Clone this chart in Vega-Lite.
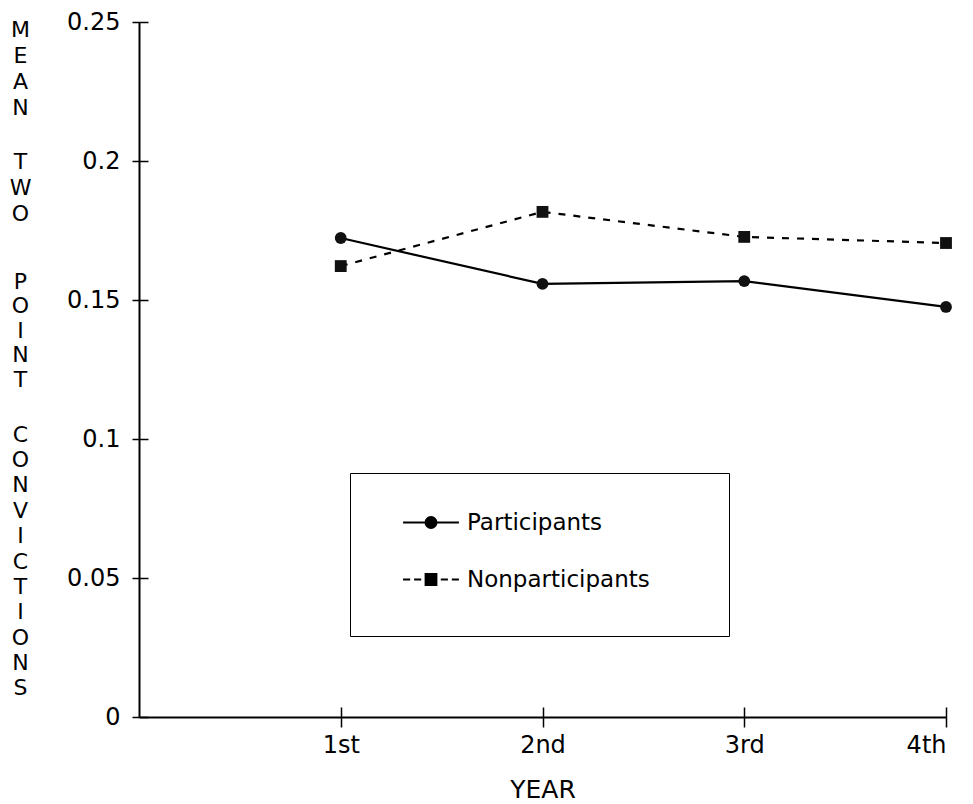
{
  "$schema": "https://vega.github.io/schema/vega-lite/v6.json",
  "width": 807,
  "height": 695,
  "autosize": "none",
  "padding": {"left": 139, "top": 22, "right": 27, "bottom": 87},
  "background": "white",
  "config": {
    "view": {"stroke": null},
    "font": "DejaVu Sans",
    "axis": {"grid": false, "domainColor": "black", "tickColor": "black", "labelColor": "black", "titleColor": "black", "labelFont": "DejaVu Sans", "titleFont": "DejaVu Sans", "titleFontWeight": "normal"}
  },
  "data": {
    "values": [
      {"series": "Participants", "year": 1, "value": 0.1723},
      {"series": "Participants", "year": 2, "value": 0.1558},
      {"series": "Participants", "year": 3, "value": 0.1568},
      {"series": "Participants", "year": 4, "value": 0.1475},
      {"series": "Nonparticipants", "year": 1, "value": 0.1622},
      {"series": "Nonparticipants", "year": 2, "value": 0.1817},
      {"series": "Nonparticipants", "year": 3, "value": 0.1727},
      {"series": "Nonparticipants", "year": 4, "value": 0.1705}
    ]
  },
  "resolve": {"scale": {"x": "independent", "y": "independent", "shape": "independent"}, "axis": {"x": "independent", "y": "independent"}},
  "layer": [
    {
      "transform": [{"filter": "datum.series === 'Participants'"}],
      "mark": {"type": "line", "color": "black", "strokeWidth": 2.2},
      "encoding": {
        "x": {
          "field": "year", "type": "quantitative",
          "scale": {"domain": [0, 4], "nice": false, "zero": false},
          "axis": {
            "orient": "bottom", "values": [1, 2, 3, 4],
            "labelExpr": "datum.value == 1 ? '1st' : datum.value == 2 ? '2nd' : datum.value == 3 ? '3rd' : '4th'",
            "labelFontSize": 24, "labelPadding": 6, "tickSize": 10, "tickWidth": 1.5, "domainWidth": 2,
            "title": "YEAR", "titleFontSize": 25, "titleBaseline": "top", "titleY": 60
          }
        },
        "y": {
          "field": "value", "type": "quantitative",
          "scale": {"domain": [0, 0.25], "nice": false},
          "axis": {
            "orient": "left", "values": [0, 0.05, 0.1, 0.15, 0.2, 0.25], "format": "~g",
            "labelFontSize": 24, "labelPadding": 12, "tickSize": 7, "tickWidth": 1.5, "domainWidth": 2,
            "title": ["M","E","A","N"],
            "titleAngle": 0, "titleFontSize": 22, "titleLineHeight": 26.2, "titleAlign": "center", "titleBaseline": "top",
            "titleX": -119, "titleY": -3
          }
        }
      }
    },
    {
      "transform": [{"filter": "datum.series === 'Nonparticipants'"}],
      "mark": {"type": "line", "color": "black", "strokeWidth": 2.2, "strokeDash": [7, 8]},
      "encoding": {
        "x": {"field": "year", "type": "quantitative", "scale": {"domain": [0, 4], "nice": false, "zero": false}, "axis": null},
        "y": {
          "field": "value", "type": "quantitative", "scale": {"domain": [0, 0.25], "nice": false},
          "axis": {
            "orient": "left", "ticks": false, "labels": false, "domain": false,
            "title": ["P","O","I","N","T"],
            "titleAngle": 0, "titleFontSize": 22, "titleLineHeight": 24.5, "titleAlign": "center", "titleBaseline": "top",
            "titleX": -119, "titleY": 249
          }
        }
      }
    },
    {
      "mark": {"type": "point", "filled": true, "color": "#111", "opacity": 1, "size": 140},
      "encoding": {
        "x": {
          "field": "year", "type": "quantitative",
          "scale": {"domain": [0, 4], "nice": false, "zero": false},
          "axis": {"orient": "top", "offset": -695, "values": [1, 2, 3, 4], "labels": false, "domain": false, "title": null, "tickSize": 10, "tickWidth": 1.5}
        },
        "y": {
          "field": "value", "type": "quantitative",
          "scale": {"domain": [0, 0.25], "nice": false},
          "axis": {
            "orient": "right", "offset": -807, "values": [0, 0.05, 0.1, 0.15, 0.2, 0.25], "labels": false, "domain": false, "tickSize": 9, "tickWidth": 1.5,
            "title": ["T","W","O"],
            "titleAngle": 0, "titleFontSize": 22, "titleLineHeight": 26.2, "titleAlign": "center", "titleBaseline": "top",
            "titleX": -119, "titleY": 129
          }
        },
        "shape": {
          "field": "series", "type": "nominal",
          "scale": {"domain": ["Participants", "Nonparticipants"], "range": ["circle", "square"]},
          "legend": null
        }
      }
    },
    {
      "mark": {"type": "point", "filled": true, "fill": "black", "stroke": "black", "strokeWidth": 2, "opacity": 0},
      "encoding": {
        "x": {"field": "year", "type": "quantitative", "scale": {"domain": [0, 4], "nice": false, "zero": false}, "axis": null},
        "y": {
          "field": "value", "type": "quantitative", "scale": {"domain": [0, 0.25], "nice": false},
          "axis": {
            "orient": "left", "ticks": false, "labels": false, "domain": false,
            "title": ["C","O","N","V","I","C","T","I","O","N","S"],
            "titleAngle": 0, "titleFontSize": 22, "titleLineHeight": 25.4, "titleAlign": "center", "titleBaseline": "top",
            "titleX": -119, "titleY": 402
          }
        },
        "shape": {
          "field": "series", "type": "nominal",
          "scale": {
            "domain": ["Participants", "Nonparticipants"],
            "range": [
              "M-1.14,0L-0.224,0M0.224,0L1.14,0M-0.224,0A0.224,0.224,0,1,1,0.224,0A0.224,0.224,0,1,1,-0.224,0Z",
              "M-1.14,0L-0.85,0M-0.69,0L-0.4,0M0.4,0L0.69,0M0.85,0L1.14,0M-0.22,-0.22L0.22,-0.22L0.22,0.22L-0.22,0.22Z"
            ]
          },
          "legend": {
            "orient": "none", "legendX": 211, "legendY": 451,
            "title": [" ", " ", " ", " "], "titleOrient": "right", "titlePadding": 55,
            "titleFontSize": 23, "titleLineHeight": 30.5, "titleBaseline": "top", "titleAnchor": "start",
            "padding": 24, "strokeColor": "black", "fillColor": "white",
            "symbolSize": 2401, "symbolOffset": 31.5, "labelOffset": 10.5, "rowPadding": 19,
            "symbolOpacity": 1, "symbolFillColor": "black", "symbolStrokeColor": "black", "symbolStrokeWidth": 2,
            "labelFontSize": 23, "labelFont": "DejaVu Sans", "labelColor": "black", "labelLimit": 400,
            "encoding": {
              "symbols": {
                "fill": {"value": "black"},
                "stroke": {"value": "black"},
                "strokeWidth": {"value": 2},
                "opacity": {"value": 1}
              }
            }
          }
        }
      }
    }
  ]
}
